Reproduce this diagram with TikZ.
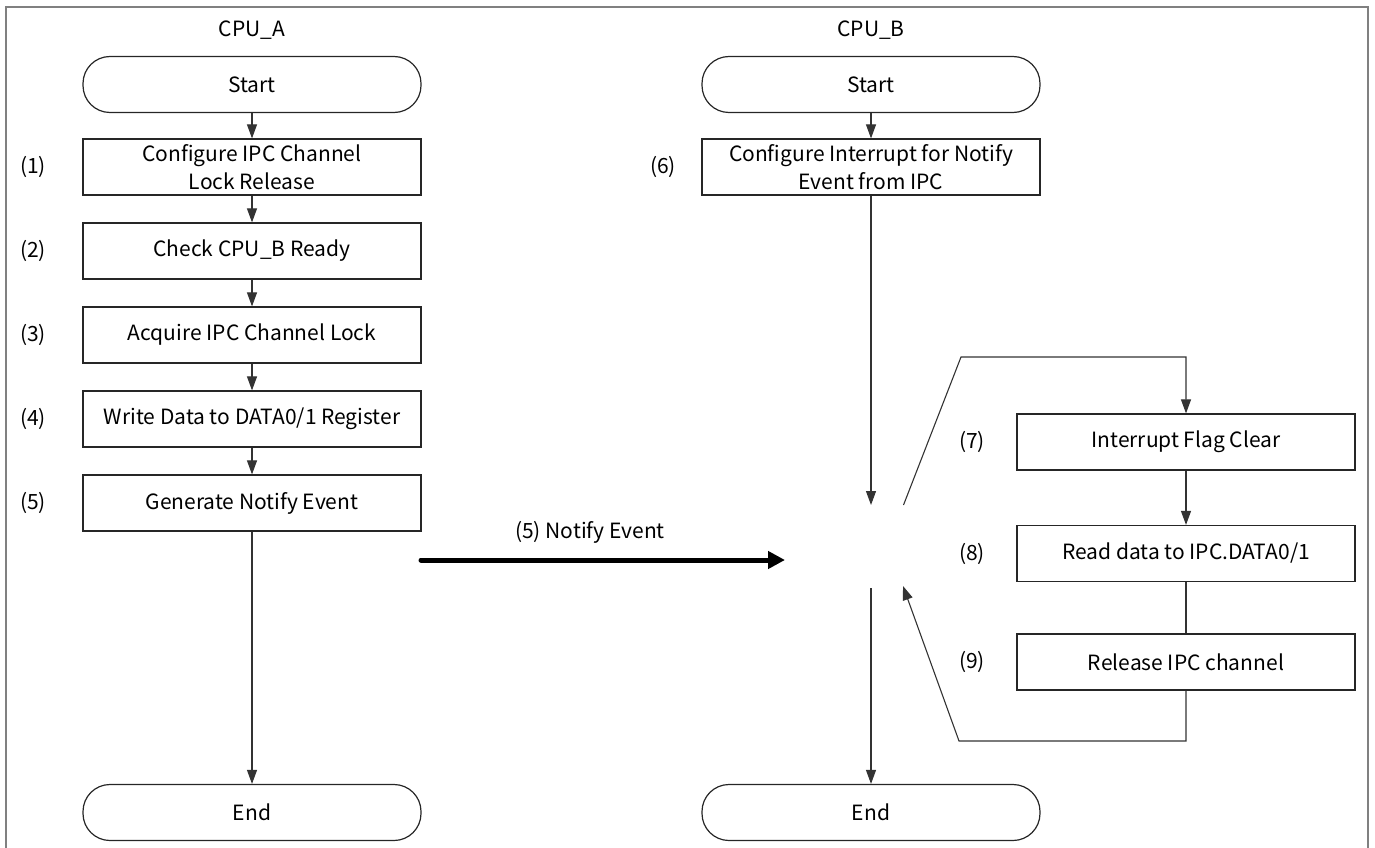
\documentclass[tikz,border=0pt]{standalone}
\usepackage{fontspec}
\setmainfont{Noto Sans CJK SC}
\usetikzlibrary{arrows.meta}
\begin{document}
\begin{tikzpicture}[x=1pt,y=-1pt,
  every node/.style={font=\fontsize{21}{28}\selectfont, text=black},
  procbox/.style={draw=black!85, line width=1.2pt, minimum width=338pt,
    minimum height=56pt, inner sep=0pt, align=center},
  termbox/.style={procbox, rounded corners=27pt},
  flow/.style={draw=black!80, line width=1.1pt, -{Triangle[length=14pt,width=10pt]}},
  plain/.style={draw=black!80, line width=1.1pt},
  event/.style={draw=black, line width=5pt, line cap=round,
    -{Triangle[length=17pt,width=17pt]}},
]
\useasboundingbox (0,0) rectangle (1375,848);
% outer frame (its lower edge runs below the page)
\draw[black!50, line width=2pt] (6,7) rectangle (1368,880);

% column titles
\node (ta) at (252,30) {CPU\_A};
\node (tb) at (871,30) {CPU\_B};

% CPU_A flow
\node[termbox] (sa) at (252,84.5) {Start};
\node[procbox] (a1) at (252,167) {Configure IPC Channel\\Lock Release};
\node[procbox] (a2) at (252,251) {Check CPU\_B Ready};
\node[procbox] (a3) at (252,335) {Acquire IPC Channel Lock};
\node[procbox] (a4) at (252,419) {Write Data to DATA0/1 Register};
\node[procbox] (a5) at (252,503) {Generate Notify Event};
\node[termbox] (ea) at (252,812.5) {End};

\node (l1) at (33,167) {(1)};
\node (l2) at (33,251) {(2)};
\node (l3) at (33,335) {(3)};
\node (l4) at (33,419) {(4)};
\node (l5) at (33,503) {(5)};

\draw[flow] (sa) -- (a1);
\draw[flow] (a1) -- (a2);
\draw[flow] (a2) -- (a3);
\draw[flow] (a3) -- (a4);
\draw[flow] (a4) -- (a5);
\draw[flow] (a5) -- (ea);

% notify event between the CPUs
\coordinate (ns) at (421,560);
\coordinate (ne) at (785,560);
\draw[event] (ns) -- (ne);
\node (nl) at (590,532) {(5) Notify Event};

% CPU_B flow
\node[termbox] (sb) at (871,84.5) {Start};
\node[procbox] (b6) at (871,167) {Configure Interrupt for Notify\\Event from IPC};
\node[termbox] (eb) at (871,812.5) {End};
\node (l6) at (663,167) {(6)};

\coordinate (wait) at (871,505);
\coordinate (resume) at (871,588);
\draw[flow] (sb) -- (b6);
\draw[flow] (b6) -- (wait);
\draw[flow] (resume) -- (eb);

% interrupt handler
\node[procbox] (b7) at (1186,442) {Interrupt Flag Clear};
\node[procbox] (b8) at (1186,553.5) {Read data to IPC.DATA0/1};
\node[procbox] (b9) at (1186,662) {Release IPC channel};
\node (l7) at (972,442) {(7)};
\node (l8) at (972,553.5) {(8)};
\node (l9) at (972,662) {(9)};

\coordinate (goin) at (903.5,505);
\coordinate (gotop) at (961,357);
\coordinate (gotopr) at (1186,357);
\draw[flow] (goin) -- (gotop) -- (gotopr) -- (b7.north);
\draw[flow] (b7) -- (b8);
\draw[plain] (b8) -- (b9);
\coordinate (backr) at (1186,741);
\coordinate (backl) at (959,741);
\coordinate (backin) at (903,586);
\draw[flow] (b9.south) -- (backr) -- (backl) -- (backin);
\end{tikzpicture}
\end{document}
